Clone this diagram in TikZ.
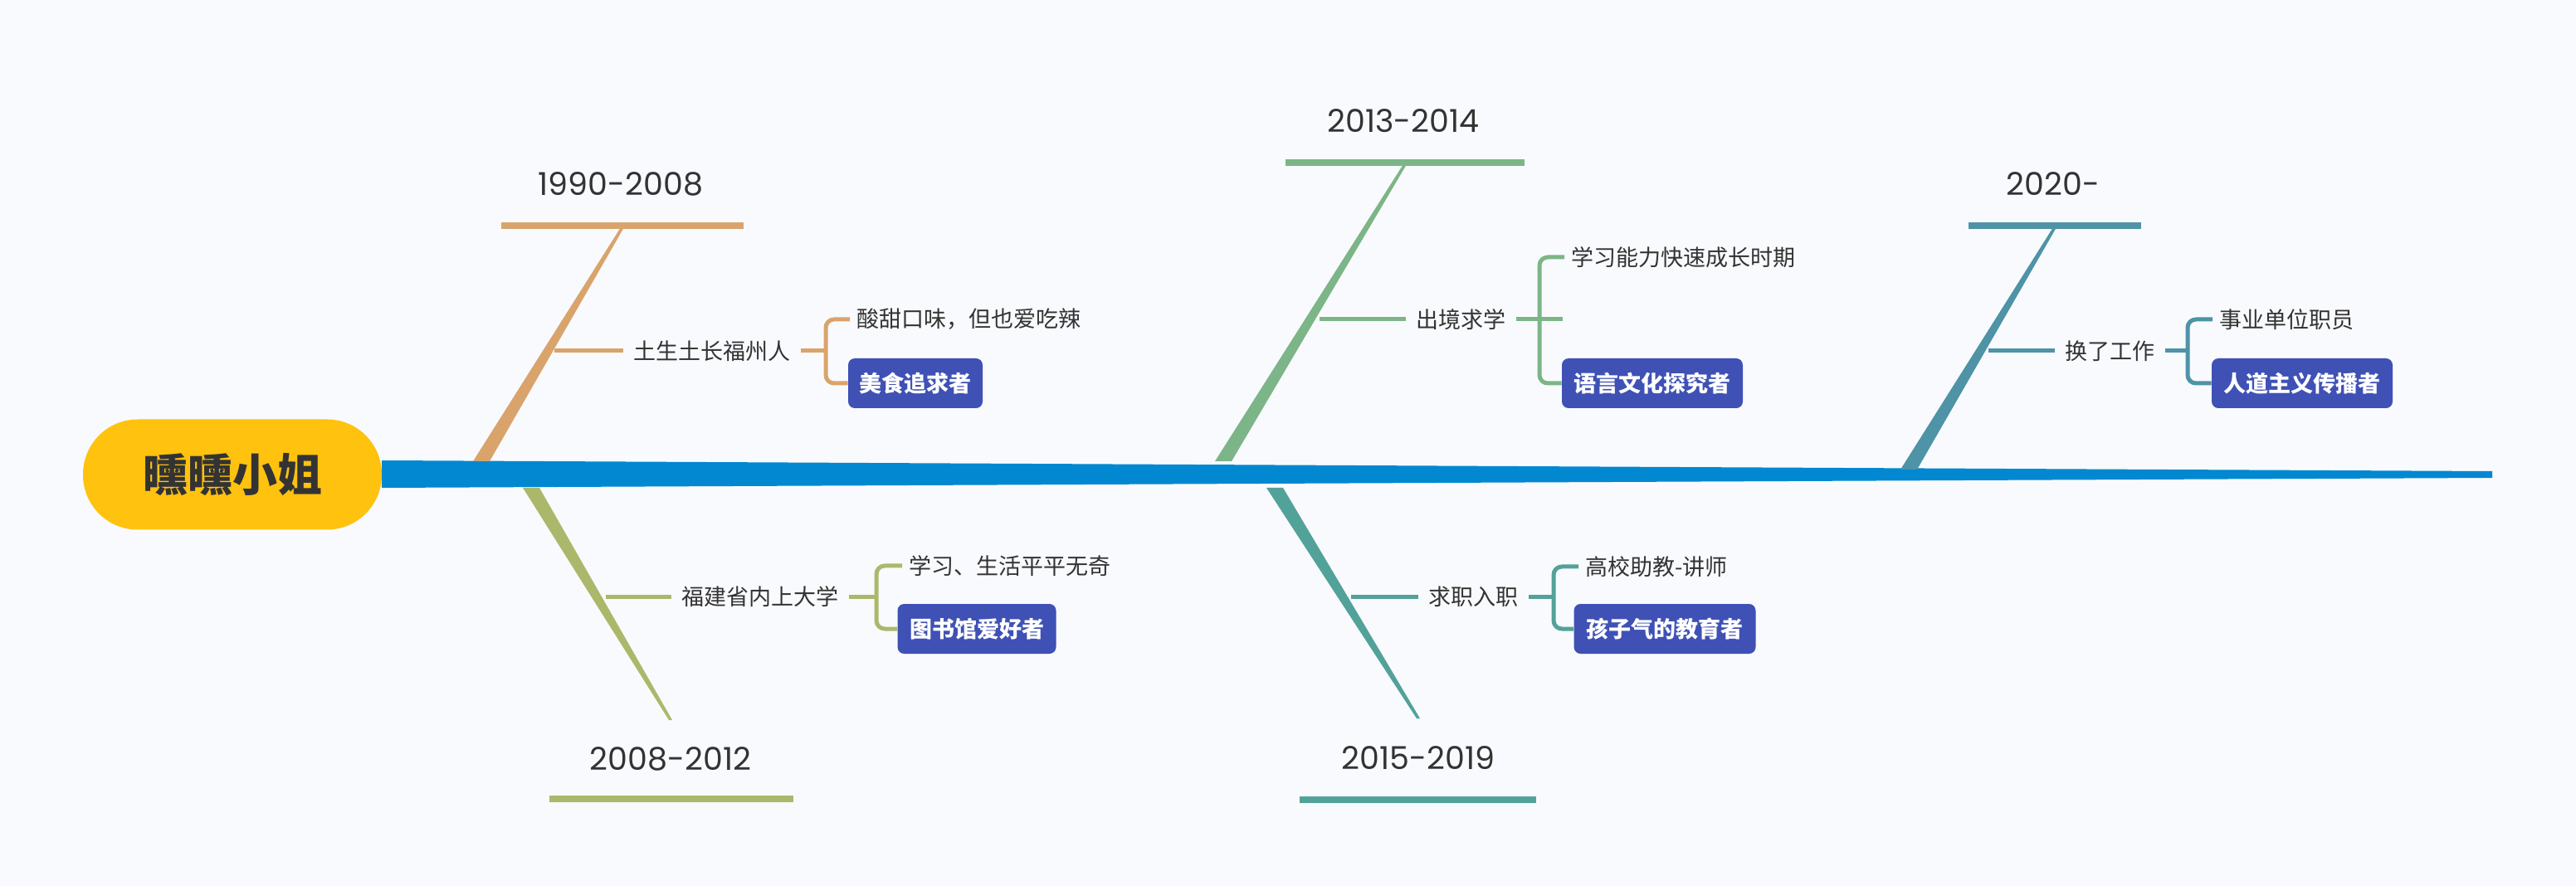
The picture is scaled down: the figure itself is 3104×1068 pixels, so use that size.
\documentclass[tikz,border=0pt]{standalone}
\usepackage{fontspec}
\setmainfont{Noto Sans CJK SC}
\newfontfamily\numfont{Poppins}
\definecolor{bg}{HTML}{F9FAFD}
\definecolor{rootc}{HTML}{FFC20E}
\definecolor{spinec}{HTML}{0288D1}
\definecolor{ca}{HTML}{D9A46B}
\definecolor{cb}{HTML}{ABB86B}
\definecolor{cc}{HTML}{7CB587}
\definecolor{cd}{HTML}{52A29A}
\definecolor{ce}{HTML}{4E93A6}
\definecolor{boxc}{HTML}{3F51B5}
\definecolor{txt}{HTML}{333333}
\begin{document}
\begin{tikzpicture}[x=0.5pt,y=-0.5pt,
  hdr/.style={font=\numfont\fontsize{19}{22}\selectfont,text=txt,inner sep=0pt},
  sub/.style={font=\fontsize{13.5}{16}\selectfont,text=txt,anchor=west,inner sep=0pt},
  leaf/.style={font=\fontsize{13.5}{16}\selectfont,text=txt,anchor=west,inner sep=0pt},
  tag/.style={fill=boxc,text=white,font=\bfseries\fontsize{13.5}{16}\selectfont,rounded corners=4pt,inner sep=0pt,minimum height=30pt},
  conn/.style={line width=2.5pt},
  brk/.style={line width=2.5pt,rounded corners=5pt}]
\fill[bg] (0,0) rectangle (3104,1068);
\useasboundingbox (0,0) rectangle (3104,1068);
% spine
\fill[spinec] (460,555) -- (3003,568) -- (3003,576) -- (460,588) -- cycle;
% branches
\fill[ca] (570,556) -- (590,556) -- (752,274) -- (748,274) -- cycle;
\fill[cb] (630,588) -- (650,588) -- (810,868) -- (806,868) -- cycle;
\fill[cc] (1464,556) -- (1484,556) -- (1695,198) -- (1691,198) -- cycle;
\fill[cd] (1526,588) -- (1546,588) -- (1711,866) -- (1707,866) -- cycle;
\fill[ce] (2290,566) -- (2310,566) -- (2478,274) -- (2474,274) -- cycle;
% header bars
\draw[ca,line width=4pt] (604,272) -- (896,272);
\draw[cb,line width=4pt] (662,963) -- (956,963);
\draw[cc,line width=4pt] (1549,196) -- (1837,196);
\draw[cd,line width=4pt] (1566,964) -- (1851,964);
\draw[ce,line width=4pt] (2372,272) -- (2580,272);
\node[hdr] (h1) at (748,222) {1990-2008};
\node[hdr] (h2) at (808,915) {2008-2012};
\node[hdr] (h3) at (1691,146) {2013-2014};
\node[hdr] (h4) at (1709,914) {2015-2019};
\node[hdr] (h5) at (2474,222) {2020-};
% root
\node[fill=rootc,rounded corners=33pt,minimum width=180pt,minimum height=66.5pt,inner sep=0pt,text=txt,font=\bfseries\fontsize{27}{30}\selectfont] (root) at (280,572) {曛曛小姐};
% sub topics
\node[sub] (s1) at (763,423) {土生土长福州人};
\node[sub] (s2) at (821,719) {福建省内上大学};
\node[sub] (s3) at (1706,385) {出境求学};
\node[sub] (s4) at (1721,719) {求职入职};
\node[sub] (s5) at (2488,423) {换了工作};
\coordinate (b1) at (668,423); \coordinate (b2) at (730,719);
\coordinate (b3) at (1590,385); \coordinate (b4) at (1628,719);
\coordinate (b5) at (2396,423);
\draw[ca,conn] (b1) -- ([xshift=-6pt]s1.west);
\draw[cb,conn] (b2) -- ([xshift=-6pt]s2.west);
\draw[cc,conn] (b3) -- ([xshift=-6pt]s3.west);
\draw[cd,conn] (b4) -- ([xshift=-6pt]s4.west);
\draw[ce,conn] (b5) -- ([xshift=-6pt]s5.west);
% leaves
\node[leaf] (l1) at (1032,385) {酸甜口味，但也爱吃辣};
\node[tag,minimum width=81pt] (t1) at (1103,462) {美食追求者};
\node[leaf] (l2) at (1095,682) {学习、生活平平无奇};
\node[tag,minimum width=95.5pt] (t2) at (1177,758) {图书馆爱好者};
\node[leaf] (l3) at (1893,310) {学习能力快速成长时期};
\node[tag,minimum width=109pt] (t3) at (1991,462) {语言文化探究者};
\node[leaf] (l4) at (1910,683) {高校助教-讲师};
\node[tag,minimum width=109.5pt] (t4) at (2006,758) {孩子气的教育者};
\node[leaf] (l5) at (2674,385) {事业单位职员};
\node[tag,minimum width=109pt] (t5) at (2774,462) {人道主义传播者};
% brackets
\draw[ca,conn] ([xshift=6pt]s1.east) -- (995,423);
\draw[ca,brk] ([xshift=-4pt]l1.west) -- (995,385) -- (995,462) -- (t1.west);
\draw[cb,conn] ([xshift=6pt]s2.east) -- (1056,719);
\draw[cb,brk] ([xshift=-4pt]l2.west) -- (1056,682) -- (1056,758) -- (t2.west);
\draw[cc,conn] ([xshift=6pt]s3.east) -- (1883,385);
\draw[cc,brk] ([xshift=-4pt]l3.west) -- (1855,310) -- (1855,462) -- (t3.west);
\draw[cd,conn] ([xshift=6pt]s4.east) -- (1872,719);
\draw[cd,brk] ([xshift=-4pt]l4.west) -- (1872,683) -- (1872,758) -- (t4.west);
\draw[ce,conn] ([xshift=6pt]s5.east) -- (2636,423);
\draw[ce,brk] ([xshift=-4pt]l5.west) -- (2636,385) -- (2636,462) -- (t5.west);
\end{tikzpicture}
\end{document}
